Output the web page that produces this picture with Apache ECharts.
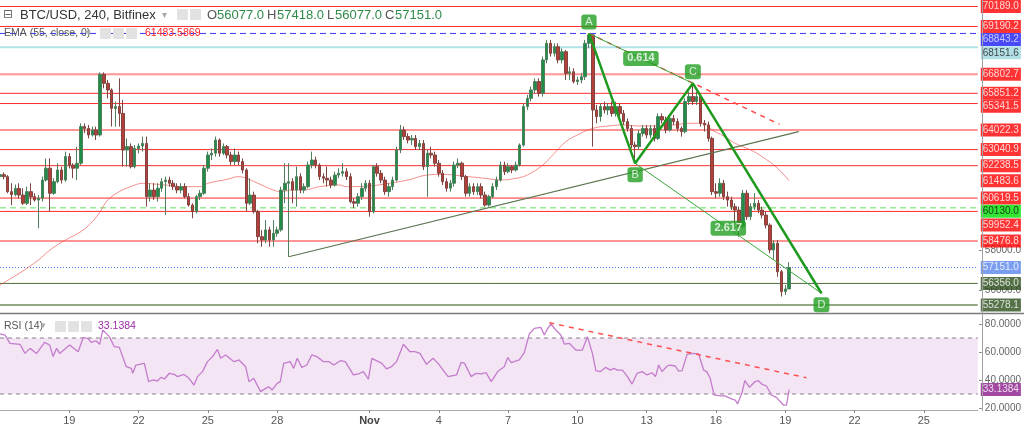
<!DOCTYPE html>
<html><head><meta charset="utf-8">
<script src="https://cdn.jsdelivr.net/npm/echarts@6/dist/echarts.min.js"></script>
<style>html,body{margin:0;padding:0;background:#fff}#c{width:1024px;height:426px}</style>
</head><body><div id="c"></div>
<script>
// 4-hour bars starting 2021-10-16 00:00 (bar index 0)
const lastBarSlot = 254;
const tickIdx = [18,36,54,72,96,114,132,150,168,186,204,222,240];
const tickLabels = ['19','22','25','28','Nov','4','7','10','13','16','19','22','25'];
const priceTicks = [56000, 58000];
const rsiTicks = [20, 40, 60, 80];

// [open, close, low, high]
const candles = [
[61690,61790,61610,62300],[61790,61690,61560,61900],[61690,60940,60860,61770],[60940,60790,60270,61360],[60790,61100,60700,61300],
[61100,60770,60600,61360],[60770,60360,60270,61110],[60360,60940,60270,61190],[60940,60690,60270,61360],[60690,60520,60440,60860],
[60520,60610,59110,60780],[60610,61520,60440,61690],[61520,62110,61440,62600],[62110,60860,59940,62600],[60860,61440,60780,61610],
[61440,62020,61360,62360],[62020,61520,61350,62190],[61520,62690,61440,62940],[62690,62270,62100,62860],[62270,62110,61610,62360],
[62110,62360,61520,63190],[62360,64190,62270,64350],[64190,64100,63860,64350],[64100,63770,63600,64270],[63770,64020,63690,64190],
[64020,63770,63520,64190],[63770,66800,63690,66900],[66800,66350,66100,66900],[66350,66020,65600,66520],[66020,65100,64190,66100],
[65100,65190,64190,65440],[65190,64850,64190,66600],[64850,63020,62190,65520],[63020,63190,62190,63600],[63190,62190,62100,63350],
[62190,63100,62100,63270],[63100,63220,62850,63350],[63220,63350,62940,63690],[63350,60690,60190,63690],[60690,61020,60440,61360],
[61020,60690,60520,61360],[60690,61110,60440,61360],[61110,61440,60940,61610],[61440,61520,59780,61690],[61520,61360,61190,61690],
[61360,61190,61020,61520],[61190,61020,60860,61360],[61020,61190,60860,61360],[61190,60690,60610,61360],[60690,60270,60190,60860],
[60270,59940,59610,60360],[59940,60690,59850,60780],[60690,60860,60520,61020],[60860,62110,60780,62270],[62110,62770,61940,62940],
[62770,62860,62520,63100],[62860,63520,62690,63690],[63520,62860,62690,63600],[62860,63190,62770,63350],[63190,62770,62600,63270],
[62770,62440,62270,62940],[62440,62770,62270,63100],[62770,62440,62270,62940],[62440,62020,61860,62600],[62020,60360,59940,62110],
[60360,60770,60270,61610],[60770,59940,59850,60940],[59940,58690,58360,60020],[58690,58530,58190,59020],[58530,59030,58360,59520],
[59030,58530,58190,59190],[58530,58860,58190,59520],[58860,59030,58690,59190],[59030,61020,58940,61190],[61020,61360,60360,62360],
[61360,61440,57690,62360],[61440,61020,60360,61610],[61020,61690,60190,62190],[61690,61020,60860,61860],[61020,61190,60860,61360],
[61190,62270,61110,62440],[62270,62520,62100,62940],[62520,62270,62100,62690],[62270,61690,61520,62360],[61690,61610,61360,61860],
[61610,61520,61190,62190],[61520,61270,61110,61690],[61270,61770,61190,61940],[61770,61860,61610,62110],[61860,61940,61690,62360],
[61940,61690,61520,62110],[61690,60440,60360,61860],[60440,60360,60110,60610],[60360,60690,60190,60860],[60690,61110,60520,61360],
[61110,61360,60940,61520],[61360,59940,59690,61520],[59940,62190,59860,62270],[62190,61860,61690,62360],[61860,61520,61360,62020],
[61520,60940,60780,61690],[60940,61190,60690,61360],[61190,61520,61020,61690],[61520,63020,61440,63190],[63020,64020,62860,64270],
[64020,63690,63520,64190],[63690,63520,63350,63860],[63520,63600,63270,63770],[63600,63190,63020,63770],[63190,63350,63020,63520],
[63350,62190,62020,63520],[62190,62860,60690,63020],[62860,62770,62600,63190],[62770,62360,62190,62940],[62360,61860,61690,62520],
[61860,61440,61270,62020],[61440,61110,60940,61610],[61110,61360,60940,61520],[61360,62270,61190,62440],[62270,62360,62110,62600],
[62360,61690,61520,62440],[61690,60860,60690,61770],[60860,61190,60690,61360],[61190,60940,60780,61360],[60940,61190,60780,61360],
[61190,60770,60610,61360],[60770,60270,60190,60940],[60270,60690,60190,60780],[60690,61190,60610,61360],[61190,61520,61020,61690],
[61520,62270,61440,62440],[62270,61940,61770,62440],[61940,62190,61860,62360],[62190,62020,61860,62270],[62020,62270,61940,62440],
[62270,63270,62190,63350],[63270,65190,63190,65350],[65190,65600,65020,65770],[65600,66020,65440,66190],[66020,66440,65850,66600],
[66440,65850,65690,66600],[65850,67520,65690,67690],[67520,68350,67350,68510],[68350,67850,67690,68520],[67850,68180,67690,68350],
[68180,67520,67350,68350],[67520,67930,67350,68100],[67930,66850,66520,68020],[66850,66930,66520,67180],[66930,66440,66350,67100],
[66440,66520,66270,66680],[66520,66680,66350,66850],[66680,68350,66520,68520],[68350,68770,68100,68843],[68770,65020,63190,68800],
[65020,64690,64350,65270],[64690,65190,64440,65350],[65190,65020,64850,65440],[65020,65190,64770,65350],[65190,64850,64690,65440],
[64850,65190,64690,65440],[65190,64850,64690,65350],[64850,64440,64270,65020],[64440,64100,63940,64600],[64100,63270,63100,64270],
[63270,63190,62355,63440],[63190,63850,63020,64020],[63850,64100,63690,64270],[64100,63770,63600,64270],[63770,64100,63600,64270],
[64100,63600,63440,64270],[63600,64690,63520,64850],[64690,64520,64350,64850],[64520,64020,63850,64690],[64020,64600,63940,64770],
[64600,64440,64270,64770],[64440,64100,63940,64600],[64100,63940,63690,64200],[63940,65440,63850,65600],[65440,65690,65270,65940],
[65690,65440,65270,66351],[65440,65690,65270,65940],[65690,64350,64190,65850],[64350,64270,63940,64520],[64270,63600,63440,64440],
[63600,60940,60770,63690],[60940,60860,60610,61360],[60860,61360,60690,61610],[61360,60690,60520,61520],[60690,60520,60190,60940],
[60520,60190,60020,60690],[60190,60020,59360,60360],[60020,59190,58690,60190],[59190,60860,59100,61020],[60860,59690,59520,61020],
[59690,60190,59520,60360],[60190,60360,60020,60860],[60360,60020,59860,60520],[60020,59770,59610,60190],[59770,59270,59100,59940],
[59270,58030,57860,59360],[58030,58360,57530,58520],[58360,56940,56690,58520],[56940,55950,55700,57030],[55950,56077,55780,56280],
[56077,57151,56077,57418]
];

// EMA(55, close): [bar, value]
const ema55 = [[0,56278],[5,56861],[10,57527],[13,58026],[17,58526],[21,58942],[24,59442],[26,59941],[28,60524],[31,60940],[34,61190],[37,61356],[40,61323],[43,61273],[48,61190],[52,61190],[54,61356],[59,61556],[62,61690],[64,61606],[67,61356],[71,61024],[73,60940],[76,61024],[79,61024],[83,61190],[88,61273],[90,61190],[96,61223],[101,61356],[106,61523],[111,61773],[115,61806],[120,61723],[126,61606],[130,61523],[134,61606],[137,61773],[141,62272],[144,62855],[147,63438],[150,63771],[154,64104],[158,64220],[162,64270],[166,64220],[171,64220],[175,64270],[179,64354],[183,64354],[185,64020],[188,63721],[191,63355],[195,63022],[198,62689],[202,62106],[205,61483.5869]];

// RSI(14): [bar, value]
const rsi14 = [[0,72.9],[1.3,72.1],[2.6,66.2],[5.2,65.5],[6.5,59.0],[7.8,62.6],[9.5,59.0],[11.6,66.9],[12.9,65.0],[13.8,56.7],[14.7,62.6],[15.5,59.0],[18.1,65.0],[20.3,60.2],[21.6,70.2],[22.8,69.8],[23.7,66.9],[25.0,67.9],[25.9,65.5],[26.7,75.7],[28.4,71.0],[29.7,63.8],[31.0,63.3],[32.8,49.5],[34.1,48.3],[34.5,44.8],[35.3,50.7],[37.5,51.9],[38.6,38.8],[39.7,40.0],[40.9,39.3],[41.8,41.9],[42.7,40.7],[44.0,44.8],[45.3,44.0],[46.1,42.4],[47.8,44.0],[49.1,41.2],[50.4,36.4],[51.3,42.4],[52.6,46.0],[53.9,53.1],[55.2,56.7],[56.5,61.9],[57.3,55.5],[58.6,57.9],[60.8,53.1],[62.1,54.3],[63.8,49.5],[64.7,38.8],[65.9,41.2],[67.7,31.7],[69.0,34.0],[69.8,35.2],[70.7,32.9],[72.0,37.6],[72.8,38.8],[73.7,51.9],[75.4,53.1],[76.3,48.3],[77.2,55.5],[78.4,49.0],[79.7,50.7],[81.0,57.9],[82.3,56.7],[84.1,53.1],[85.4,53.1],[86.7,50.7],[88.4,53.8],[89.7,53.1],[91.8,43.6],[93.1,44.3],[94.4,46.0],[95.7,40.7],[96.6,55.5],[98.3,53.1],[99.2,51.9],[100.4,47.9],[101.7,49.5],[103.0,53.1],[104.8,65.5],[106.5,60.2],[107.8,60.2],[109.1,59.0],[110.8,51.2],[112.5,55.5],[113.8,51.9],[116.4,42.4],[118.6,43.6],[119.8,52.6],[120.7,51.9],[122.4,42.4],[123.7,44.8],[125.0,44.3],[126.3,45.2],[127.6,38.8],[129.3,46.0],[131.0,49.5],[131.9,56.0],[132.8,52.4],[134.9,54.3],[136.2,59.5],[137.5,72.9],[138.8,76.9],[140.5,77.6],[141.4,72.1],[142.3,76.9],[143.1,80.0],[144.4,75.7],[145.7,72.1],[146.6,65.7],[147.9,66.2],[149.6,61.4],[151.3,61.4],[152.6,71.0],[153.9,59.0],[154.8,46.7],[156.0,46.0],[157.3,49.0],[158.6,47.1],[159.5,48.3],[160.4,47.1],[161.7,47.1],[163.0,42.4],[164.2,37.1],[165.5,44.8],[166.8,46.0],[168.1,43.6],[169.4,45.2],[170.3,42.4],[171.1,50.7],[172.0,46.0],[173.3,50.0],[174.1,50.7],[175.4,50.0],[176.3,46.4],[177.2,46.7],[178.5,58.3],[179.8,59.0],[181.5,58.6],[182.8,47.1],[183.6,46.0],[184.5,41.2],[185.5,29.3],[187.1,28.6],[188.4,28.6],[189.7,26.9],[191.0,25.7],[191.6,22.9],[192.7,30.5],[193.5,39.5],[194.7,34.8],[196.1,38.8],[197.0,39.5],[197.9,37.1],[199.1,35.7],[200.4,29.3],[201.7,27.6],[203.5,22.1],[204.3,22.1],[205,33.1384]];
const rsiBand = [30, 70];

// horizontal price levels
const levelValues = [70189.0,69190.2,68843.2,68151.6,66802.7,65851.2,65341.5,64022.3,63040.9,62238.5,60619.5,60130.0,59952.4,58476.8,57151.0,56356.0,55278.1];
const levelKind   = ['res','res','high','cyan','soft','res','res','soft','res','res','res','mid','res','soft','last','sup','sup2'];

// drawings
const patternNames  = ['A','B','C','D'];
const patternBars   = [153, 165, 180, 213.4];
const patternPrices = [68843, 62355, 66351, 55864];
const ratioTexts    = ['0.614', '2.617'];
const trendBars = [75, 207.5],  trendPrices = [57690, 63940];
const dashBars  = [153, 202.5], dashPrices  = [68843, 64300];
const rsiDashBars = [142.7, 209.5], rsiDashVals = [80.9, 41.6];

const header = {sym:'BTC/USD, 240, Bitfinex', o:'56077.0', h:'57418.0', l:'56077.0', c:'57151.0'};

// ---------- styles ----------
const kindStyle = {
  res:  {line:{color:'#ff2b2b', width:1, type:'solid'}, bg:'#ff0000', fg:'#ffffff'},
  soft: {line:{color:'rgba(255,60,60,0.55)', width:2, type:'solid'}, bg:'#ff0000', fg:'#ffffff'},
  high: {line:{color:'#3a3aff', width:1, type:[6,4]}, bg:'#1c1cf5', fg:'#e6e6ff'},
  cyan: {line:{color:'#b3e2ec', width:2, type:'solid'}, bg:'#9fd6e0', fg:'#222'},
  mid:  {line:{color:'#5ee05e', width:1, type:[6,4]}, bg:'#00e000', fg:'#111'},
  last: {line:{color:'#4a6ee0', width:1, type:[1,2]}, bg:'#5a86ee', fg:'#ffffff'},
  sup:  {line:{color:'#4d6b3c', width:1, type:'solid'}, bg:'#2c4f1c', fg:'#ffffff'},
  sup2: {line:{color:'#6f8d5e', width:1.5, type:'solid'}, bg:'#2c4f1c', fg:'#ffffff'}
};
const tagShift = {70189.0:0, 68843.2:6, 68151.6:5.5, 65341.5:2.8, 60130.0:3.5, 59952.4:13.5};
const FONT = 'Liberation Sans';
const green = '#22a022';

const series = [];
levelValues.forEach((v,k)=>{
  const st = kindStyle[levelKind[k]];
  series.push({type:'line', xAxisIndex:0, yAxisIndex:0, data:[[0,v],[lastBarSlot,v]], symbol:'none', silent:true,
    lineStyle:st.line, z:1, animation:false});
});
series.push({type:'line', name:'EMA', xAxisIndex:0, yAxisIndex:0, data:ema55, symbol:'none', smooth:0.4, silent:true,
  lineStyle:{color:'rgba(240,70,70,0.6)', width:1}, z:2});
series.push({type:'candlestick', xAxisIndex:0, yAxisIndex:0,
  data:candles.map((c,i)=>[i,c[0],c[1],c[2],c[3]]), encode:{x:0, y:[1,2,3,4]}, barWidth:3, z:4,
  itemStyle:{color:'#1f8c48', color0:'#b53f39', borderColor:'#4f7f5c', borderColor0:'#7f4540', borderWidth:1}});
series.push({type:'line', xAxisIndex:0, yAxisIndex:0, data:trendBars.map((b,k)=>[b,trendPrices[k]]), symbol:'none', silent:true,
  lineStyle:{color:'#5b7550', width:1.2}, z:5});
series.push({type:'line', xAxisIndex:0, yAxisIndex:0, data:dashBars.map((b,k)=>[b,dashPrices[k]]), symbol:'none', silent:true,
  lineStyle:{color:'#ff4a4a', width:1.5, type:[5,5]}, z:5});
const P = patternBars.map((b,k)=>[b, patternPrices[k]]);
series.push({type:'line', xAxisIndex:0, yAxisIndex:0, data:[P[0],P[2]], symbol:'none', silent:true, lineStyle:{color:'#38a838', width:1}, z:6});
series.push({type:'line', xAxisIndex:0, yAxisIndex:0, data:[P[1],P[3]], symbol:'none', silent:true, lineStyle:{color:'#38a838', width:1}, z:6});
series.push({type:'line', xAxisIndex:0, yAxisIndex:0, data:P, symbol:'none', silent:true, lineStyle:{color:'#1e9a1e', width:2.5}, z:7});
const labelBox = {show:true, color:'#fff', backgroundColor:green, padding:[2,4], borderRadius:3, fontSize:11, fontFamily:FONT, lineHeight:11};
series.push({type:'scatter', xAxisIndex:0, yAxisIndex:0, symbolSize:0, silent:true, z:20,
  data:[
    ...P.map((p,k)=>({value:p, name:patternNames[k], label:Object.assign({}, labelBox, {position:(k%2===0 && k<3)?'top':'bottom', distance:4, formatter:patternNames[k]})})),
    {value:[(P[0][0]+P[2][0])/2,(P[0][1]+P[2][1])/2], label:Object.assign({}, labelBox, {position:'inside', formatter:ratioTexts[0], fontWeight:'bold'})},
    {value:[(P[1][0]+P[3][0])/2,(P[1][1]+P[3][1])/2], label:Object.assign({}, labelBox, {position:'inside', formatter:ratioTexts[1], fontWeight:'bold'})}
  ]});
// price tags on the right axis
const tagData = levelValues.map((v,k)=>{
  const st = kindStyle[levelKind[k]];
  return {value:[lastBarSlot, v], label:{backgroundColor:st.bg, color:st.fg, offset:[0, tagShift[v]||0]}};
});
tagData.push({value:[lastBarSlot, ema55[ema55.length-1][1]], label:{backgroundColor:'#ff0000', color:'#fff'}});
series.push({type:'scatter', xAxisIndex:0, yAxisIndex:0, symbolSize:0, silent:true, clip:false, z:30,
  data:tagData,
  label:{show:true, position:'right', distance:3, fontSize:10, fontFamily:FONT, padding:[1,2], lineHeight:11,
    formatter:p=>p.value[1].toFixed(1)}});

// RSI pane
series.push({type:'line', xAxisIndex:1, yAxisIndex:1, data:[], silent:true,
  markArea:{silent:true, itemStyle:{color:'#f3e5f4'}, data:[[{yAxis:rsiBand[0]},{yAxis:rsiBand[1]}]]}, z:1});
rsiBand.forEach(v=>series.push({type:'line', xAxisIndex:1, yAxisIndex:1, data:[[0,v],[lastBarSlot,v]], symbol:'none', silent:true,
  lineStyle:{color:'#8e7f8e', width:1, type:[4,4]}, z:2}));
series.push({type:'line', xAxisIndex:1, yAxisIndex:1, data:rsi14, symbol:'none', silent:true, clip:false,
  lineStyle:{color:'#c47ccc', width:1.3}, z:4});
series.push({type:'line', xAxisIndex:1, yAxisIndex:1, data:rsiDashBars.map((b,k)=>[b,rsiDashVals[k]]), symbol:'none', silent:true, clip:false,
  lineStyle:{color:'#ff5050', width:1.5, type:[5,5]}, z:5});
series.push({type:'scatter', xAxisIndex:1, yAxisIndex:1, symbolSize:0, silent:true, clip:false, z:30,
  data:[[lastBarSlot, rsi14[rsi14.length-1][1]]],
  label:{show:true, position:'right', distance:3, fontSize:10, fontFamily:FONT, padding:[1,2], lineHeight:11,
    backgroundColor:'#8b1a8b', color:'#fff', formatter:p=>p.value[1].toFixed(4)}});

const txt = (x,y,text,fill,size,extra)=>Object.assign({type:'text', x, y, z:60, silent:true,
  style:Object.assign({text, fill, fontSize:size, fontFamily:FONT, verticalAlign:'middle'}, extra||{})});
const box = (x,y)=>({type:'rect', z:60, silent:true, shape:{x, y, width:11, height:11, r:1}, style:{fill:'#e2e2e2'}});

const option = {
  animation:false,
  backgroundColor:'#ffffff',
  grid:[{left:0, right:41, top:0, height:313}, {left:0, right:41, top:313, height:97}],
  xAxis:[
    {type:'value', gridIndex:0, min:0, max:lastBarSlot, show:false},
    {type:'value', gridIndex:1, min:0, max:lastBarSlot, splitLine:{show:false},
      axisLine:{show:true, onZero:false, lineStyle:{color:'#a8a8a8'}},
      axisTick:{show:true, customValues:tickIdx, length:3, lineStyle:{color:'#888'}},
      axisLabel:{customValues:tickIdx, margin:5, color:'#555', fontSize:11, fontFamily:FONT,
        formatter:v=>{const s=tickLabels[tickIdx.indexOf(Math.round(v))]||''; return s==='Nov'?'{b|Nov}':s;},
        rich:{b:{fontWeight:'bold', color:'#444', fontSize:11, fontFamily:FONT}}}}
  ],
  yAxis:[
    {type:'value', gridIndex:0, position:'right', min:54878, max:70514, splitLine:{show:false}, axisLine:{show:false},
      axisTick:{show:false},
      axisLabel:{customValues:priceTicks, formatter:v=>'- '+v.toFixed(1), color:'#666', fontSize:10, fontFamily:FONT, margin:1}},
    {type:'value', gridIndex:1, position:'right', min:18.57, max:87.86, splitLine:{show:false}, axisLine:{show:false},
      axisTick:{show:false},
      axisLabel:{customValues:rsiTicks, formatter:v=>'- '+v.toFixed(4), color:'#666', fontSize:10, fontFamily:FONT, margin:1}}
  ],
  series,
  graphic:[
    {type:'line', z:50, silent:true, shape:{x1:0,y1:313.5,x2:1024,y2:313.5}, style:{stroke:'#7a7a7a', lineWidth:1.5}},
    {type:'line', z:50, silent:true, shape:{x1:982.5,y1:0,x2:982.5,y2:411}, style:{stroke:'#a0a0a0', lineWidth:1}},
    txt(3,15,'⊟','#666',12,{fontFamily:'DejaVu Sans'}),
    txt(20,15,header.sym,'#333',13),
    txt(162,15,'▾','#aaa',10,{fontFamily:'DejaVu Sans'}),
    box(177,9), box(190,9),
    txt(207,15,'O','#555',13), txt(217,15,header.o,'#2f8a4a',13),
    txt(267,15,'H','#555',13), txt(277,15,header.h,'#2f8a4a',13),
    txt(327,15,'L','#555',13), txt(335,15,header.l,'#2f8a4a',13),
    txt(385,15,'C','#555',13), txt(395,15,header.c,'#2f8a4a',13),
    txt(4,33,'EMA (55, close, 0)','#555',10.5),
    txt(86,33,'▾','#aaa',9,{fontFamily:'DejaVu Sans'}),
    box(100,28), box(113,28), box(126,28),
    txt(145,33,ema55[ema55.length-1][1].toFixed(4),'#ff2020',10.5),
    txt(4,326,'RSI (14)','#555',10.5),
    txt(41,326,'▾','#aaa',9,{fontFamily:'DejaVu Sans'}),
    box(55,321), box(68,321), box(81,321),
    txt(98,326,rsi14[rsi14.length-1][1].toFixed(4),'#9c2aa8',10.5)
  ]
};
const chart = echarts.init(document.getElementById('c'));
chart.setOption(option);
</script>
</body></html>
